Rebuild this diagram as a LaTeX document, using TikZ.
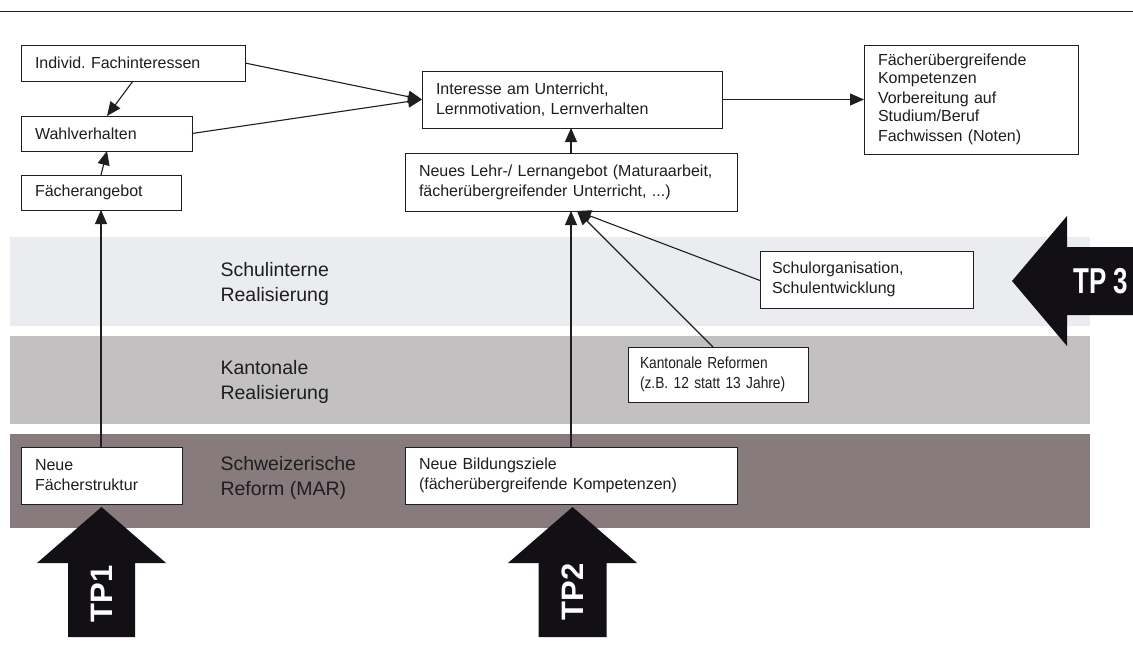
\documentclass[tikz,border=0pt]{standalone}
\usepackage{fontspec}
\setmainfont{Liberation Sans}
\newfontfamily\tpcond[FakeStretch=0.72]{Liberation Sans}
\newfontfamily\narrowf[FakeStretch=0.86]{Liberation Sans}
\usetikzlibrary{arrows.meta}
\definecolor{bandA}{HTML}{EBECF0}
\definecolor{bandB}{HTML}{C2C0C1}
\definecolor{bandC}{HTML}{877B7E}
\definecolor{ink}{HTML}{1E1E1E}
\definecolor{bigarrow}{HTML}{121014}
\tikzset{
  bx/.style={draw=ink, fill=white, line width=1pt, align=left, anchor=north west,
    inner xsep=14pt, inner ysep=0pt, outer sep=0pt, text=ink,
    font=\fontsize{16}{20}\selectfont},
  band/.style={anchor=west, align=left, text=ink, font=\fontsize{19.5}{25}\selectfont},
  con/.style={draw=ink, line width=1.1pt, -{Triangle[length=14pt,width=12pt]}},
  tplab/.style={text=white, font=\fontsize{31}{31}\selectfont\bfseries, inner sep=0pt}
}
\begin{document}
\frenchspacing
\begin{tikzpicture}[x=1pt,y=-1pt]
\useasboundingbox (0,0) rectangle (1133,645);
% top rule
\draw[line width=1pt, ink] (0,11) -- (1133,11);
% bands
\fill[bandA] (10,237) rectangle (1090,326);
\fill[bandB] (10,336) rectangle (1090,424);
\fill[bandC] (10,434) rectangle (1090,528);
\node[band] (lab1) at (217,284) {Schulinterne\\Realisierung};
\node[band] (lab2) at (217,382) {Kantonale\\Realisierung};
\node[band] (lab3) at (217,478) {Schweizerische\\Reform (MAR)};
% big arrows
\fill[bigarrow] (101.5,507) -- (166,563) -- (135,563) -- (135,637) -- (68,637) -- (68,563) -- (37,563) -- cycle;
\fill[bigarrow] (572.5,507) -- (637,563) -- (606.5,563) -- (606.5,637) -- (538.5,637) -- (538.5,563) -- (508,563) -- cycle;
\fill[bigarrow] (1012,281) -- (1067,216) -- (1067,247) -- (1133,247) -- (1133,315) -- (1067,315) -- (1067,346) -- cycle;
\node[tplab, rotate=90] (tp1) at (101.5,594) {TP1};
\node[tplab, rotate=90] (tp2) at (572.5,592) {TP2};
\node[tplab, font=\fontsize{36}{36}\selectfont\tpcond\bfseries] (tp3) at (1101,281) {TP 3};
% boxes
\node[bx, text width=196pt, minimum height=36pt] (ind) at (21,45) {Individ. Fachinteressen};
\node[bx, text width=143pt, minimum height=35pt] (wahl) at (21,116) {Wahlverhalten};
\node[bx, text width=132pt, minimum height=35pt] (fa) at (21,175) {Fächerangebot};
\node[bx, text width=272pt, minimum height=57pt] (int) at (422,71) {Interesse am Unterricht,\\Lernmotivation, Lernverhalten};
\node[bx, text width=304pt, minimum height=58pt] (lehr) at (405,153) {Neues Lehr-/ Lernangebot (Maturaarbeit,\\fächerübergreifender Unterricht, ...)};
\node[bx, text width=186pt, minimum height=109pt, font=\fontsize{16}{18}\selectfont] (res) at (864,45) {Fächerübergreifende\\Kompetenzen\\[2pt]Vorbereitung auf\\Studium/Beruf\\[2pt]Fachwissen (Noten)};
\node[bx, minimum height=57pt, inner xsep=12pt, text width=189pt] (org) at (760,251) {Schulorganisation,\\Schulentwicklung};
\node[bx, minimum height=55pt, inner xsep=12pt, text width=156pt, font=\fontsize{16}{20}\selectfont\narrowf] (kant) at (628,347) {Kantonale Reformen\\(z.B. 12 statt 13 Jahre)};
\node[bx, text width=133pt, minimum height=57pt] (nfs) at (21,447) {Neue\\Fächerstruktur};
\node[bx, text width=304pt, minimum height=57pt] (nbz) at (405,447) {Neue Bildungsziele\\(fächerübergreifende Kompetenzen)};
% connectors
\draw[con] ([xshift=112pt]ind.south west) -- ([xshift=86pt]wahl.north west);
\draw[con] (ind.east) -- (int.west);
\draw[con] (wahl.east) -- (int.west);
\draw[con] ([xshift=80pt]fa.north west) -- ([xshift=86pt]wahl.south west);
\draw[con] ([xshift=80pt]nfs.north west) -- ([xshift=80pt]fa.south west);
\draw[con] ([xshift=166pt]lehr.north west) -- ([xshift=149pt]int.south west);
\draw[con] (int.east) -- (res.west);
\draw[con] ([xshift=166pt]nbz.north west) -- ([xshift=166pt]lehr.south west);
\draw[con] ([yshift=-1pt]org.west) -- ([xshift=172pt]lehr.south west);
\draw[con] ([xshift=85pt]kant.north west) -- ([xshift=172pt]lehr.south west);
\end{tikzpicture}
\end{document}
